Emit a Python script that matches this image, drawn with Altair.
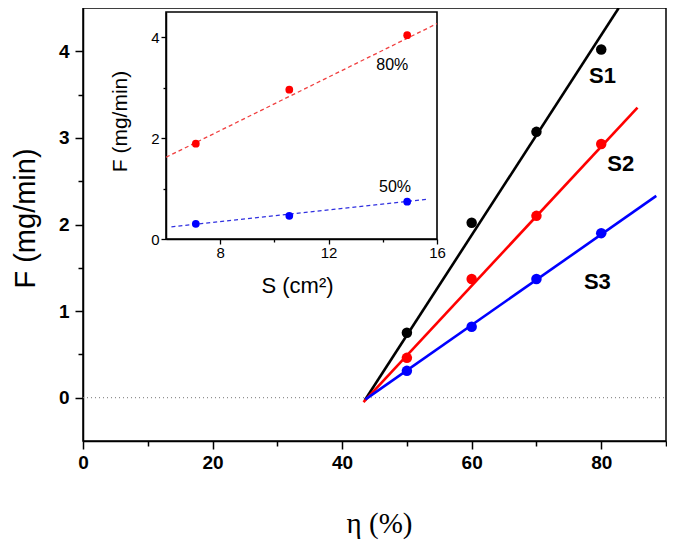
import altair as alt
import pandas as pd

# ---------------- main panel data ----------------
eta = [50, 60, 70, 80]
s1 = [0.75, 2.02, 3.07, 4.02]
s2 = [0.46, 1.37, 2.10, 2.93]
s3 = [0.31, 0.82, 1.37, 1.90]
series = ["S1", "S2", "S3"]
colors = ["#000000", "#ff0000", "#0000ff"]

# fitted straight lines (start / end)
fit_x0 = [43.5, 43.3, 43.6]
fit_y0 = [-0.03, -0.05, -0.02]
fit_x1 = [82.7, 85.6, 88.5]
fit_y1 = [4.5, 3.35, 2.33]

label_x = [80.2, 83.0, 79.4]
label_y = [3.72, 2.70, 1.34]

x_domain = [0, 90]
y_domain = [-0.5, 4.5]
x_major = [0, 20, 40, 60, 80]
x_minor = [10, 30, 50, 70, 90]
y_major = [0, 1, 2, 3, 4]
y_minor = [0.5, 1.5, 2.5, 3.5]

# ---------------- inset data ----------------
area = [7.1, 10.55, 14.9]
f80 = [1.89, 2.96, 4.04]
f50 = [0.30, 0.46, 0.74]
fit80_x = [6, 16]
fit80_y = [1.62, 4.27]
fit50_x = [6.2, 15.7]
fit50_y = [0.24, 0.79]
inset_labels = ["80%", "50%"]
inset_label_x = [14.35, 14.45]
inset_label_y = [3.45, 1.03]
inset_colors = ["#ff0000", "#0000ff"]
inset_line_colors = ["#f04040", "#3030e0"]
ix_domain = [6, 16]
iy_domain = [0, 4.5]
ix_major = [8, 12, 16]
ix_minor = [10, 14]
iy_major = [0, 2, 4]
iy_minor = [1, 3]

# ---------------- data frames ----------------
pts = pd.DataFrame(
    [{"x": e, "y": v, "s": s} for s, vals in zip(series, [s1, s2, s3]) for e, v in zip(eta, vals)]
)
fits = pd.DataFrame(
    [r for i, s in enumerate(series) for r in (
        {"x": fit_x0[i], "y": fit_y0[i], "s": s},
        {"x": fit_x1[i], "y": fit_y1[i], "s": s})]
)
labs = pd.DataFrame({"x": label_x, "y": label_y, "s": series})
zero = pd.DataFrame({"x": x_domain, "y": [0, 0]})

W, H = 583, 433
INSET_X = [83, 354]
INSET_Y = [231, 4]

xs = alt.Scale(domain=x_domain, nice=False, zero=False)
ys = alt.Scale(domain=y_domain, nice=False, zero=False)
cs = alt.Color("s:N", scale=alt.Scale(domain=series, range=colors), legend=None)

FONT = "Liberation Sans"
SERIF = "Liberation Serif"
common = dict(tickColor="black", domainColor="black", grid=False, labelOverlap=False)

x_axis = alt.Axis(
    orient="bottom", values=x_major,
    title="η (%)", titleFont=SERIF, titleFontSize=29, titleFontWeight="normal",
    titleColor="black", titleX=296, titleY=82, titleBaseline="middle",
    labelFont=FONT, labelFontSize=19, labelFontWeight="bold", labelColor="black",
    labelPadding=4, labelFlush=False, tickSize=8, tickWidth=1.5, domainWidth=1.5, **common,
)
x_axis_minor = alt.Axis(
    orient="bottom", values=x_minor, labels=False, title=None, domain=False,
    tickSize=5, tickWidth=1.5, **common,
)
y_axis = alt.Axis(
    orient="left", values=y_major,
    title="F (mg/min)", titleFont=FONT, titleFontSize=29, titleFontWeight="normal",
    titleColor="black", titleX=-58, titleY=210, titleBaseline="middle",
    labelFont=FONT, labelFontSize=19, labelFontWeight="bold", labelColor="black",
    labelPadding=6, tickSize=8, tickWidth=1.5, domainWidth=1.5, **common,
)
y_axis_minor = alt.Axis(
    orient="left", values=y_minor, labels=False, title=None, domain=False,
    tickSize=5, tickWidth=1.5, **common,
)

zero_line = alt.Chart(zero).mark_line(color="#777777", strokeWidth=1, strokeDash=[1, 3]).encode(
    x=alt.X("x:Q", scale=xs, axis=x_axis),
    y=alt.Y("y:Q", scale=ys, axis=y_axis),
)
fit_lines = alt.Chart(fits).mark_line(strokeWidth=2.6, clip=True).encode(
    x=alt.X("x:Q", scale=xs, axis=x_axis_minor),
    y=alt.Y("y:Q", scale=ys, axis=y_axis_minor),
    color=cs, detail="s:N",
)
points = alt.Chart(pts).mark_circle(size=110, opacity=1).encode(
    x=alt.X("x:Q", scale=xs, axis=None),
    y=alt.Y("y:Q", scale=ys, axis=None),
    color=cs,
)
texts = alt.Chart(labs).mark_text(font=FONT, fontSize=22, fontWeight="bold", color="black").encode(
    x=alt.X("x:Q", scale=xs, axis=None),
    y=alt.Y("y:Q", scale=ys, axis=None),
    text="s:N",
)
main = alt.layer(zero_line, fit_lines, points, texts).resolve_axis(x="independent", y="independent")

# ---------------- inset ----------------
ixs = alt.Scale(domain=ix_domain, range=INSET_X, nice=False, zero=False)
iys = alt.Scale(domain=iy_domain, range=INSET_Y, nice=False, zero=False)

ix_axis = alt.Axis(
    orient="bottom", offset=-(H - INSET_Y[0]), values=ix_major,
    title="S (cm²)", titleFont=FONT, titleFontSize=22, titleFontWeight="normal", titleColor="black",
    titleX=214, titleY=46, titleBaseline="middle",
    labelFont=FONT, labelFontSize=15, labelColor="black", labelPadding=1, labelFlush=False,
    tickSize=5, tickWidth=1.3, domainWidth=1.5, **common,
)
ix_axis_minor = alt.Axis(
    orient="bottom", offset=-(H - INSET_Y[0]), values=ix_minor, labels=False, title=None,
    domain=False, tickSize=3, tickWidth=1.3, **common,
)
iy_axis = alt.Axis(
    orient="left", offset=-INSET_X[0], values=iy_major,
    title="F (mg/min)", titleFont=FONT, titleFontSize=21, titleFontWeight="normal", titleColor="black",
    titleX=-46, titleY=113, titleBaseline="middle",
    labelFont=FONT, labelFontSize=15, labelColor="black", labelPadding=2,
    tickSize=5, tickWidth=1.3, domainWidth=1.5, **common,
)
iy_axis_minor = alt.Axis(
    orient="left", offset=-INSET_X[0], values=iy_minor, labels=False, title=None,
    domain=False, tickSize=3, tickWidth=1.3, **common,
)

frame_df = pd.DataFrame({"x0": [ix_domain[0]], "x1": [ix_domain[1]],
                         "y0": [iy_domain[0]], "y1": [iy_domain[1]]})
frame = alt.Chart(frame_df).mark_rect(filled=False, stroke="black", strokeWidth=1.6).encode(
    x=alt.X("x0:Q", scale=ixs, axis=ix_axis),
    x2="x1",
    y=alt.Y("y0:Q", scale=iys, axis=iy_axis),
    y2="y1",
)

ipts = pd.DataFrame(
    [{"x": a, "y": v, "g": g} for g, vals in zip(inset_labels, [f80, f50]) for a, v in zip(area, vals)]
)
ifit = pd.DataFrame(
    [{"x": x, "y": y, "g": "80%"} for x, y in zip(fit80_x, fit80_y)]
    + [{"x": x, "y": y, "g": "50%"} for x, y in zip(fit50_x, fit50_y)]
)
ilab = pd.DataFrame({"x": inset_label_x, "y": inset_label_y, "g": inset_labels})

ic_line = alt.Color("g:N", scale=alt.Scale(domain=inset_labels, range=inset_line_colors), legend=None)
ic_pt = alt.Color("g:N", scale=alt.Scale(domain=inset_labels, range=inset_colors), legend=None)

ilines = alt.Chart(ifit).mark_line(strokeWidth=1.3, strokeDash=[4, 3]).encode(
    x=alt.X("x:Q", scale=ixs, axis=ix_axis_minor),
    y=alt.Y("y:Q", scale=iys, axis=iy_axis_minor),
    color=ic_line, detail="g:N",
)
ipoints = alt.Chart(ipts).mark_circle(size=60, opacity=1).encode(
    x=alt.X("x:Q", scale=ixs, axis=None),
    y=alt.Y("y:Q", scale=iys, axis=None),
    color=ic_pt,
)
itexts = alt.Chart(ilab).mark_text(font=FONT, fontSize=16, color="black").encode(
    x=alt.X("x:Q", scale=ixs, axis=None),
    y=alt.Y("y:Q", scale=iys, axis=None),
    text="g:N",
)
inset = alt.layer(frame, ilines, ipoints, itexts).resolve_scale(color="independent").resolve_axis(
    x="independent", y="independent")

chart = alt.layer(main, inset).resolve_scale(
    x="independent", y="independent", color="independent"
).properties(
    width=W, height=H,
    autosize=alt.AutoSizeParams(type="none"),
    padding={"left": 75, "top": 0, "right": 1, "bottom": 100},
).configure_view(stroke="black", strokeWidth=1.5)

chart.save("out.html", embed_options={"renderer": "svg", "actions": False})
